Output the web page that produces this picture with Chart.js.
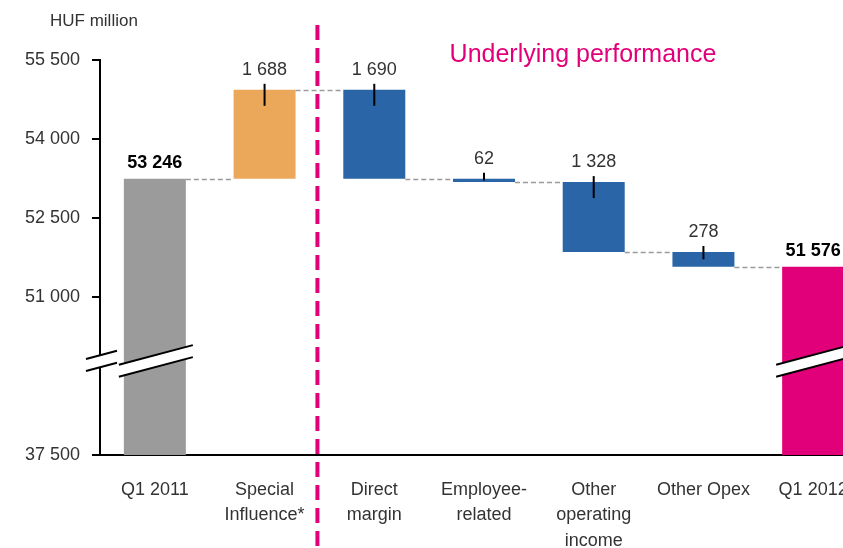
<!DOCTYPE html>
<html>
<head>
<meta charset="utf-8">
<script src="https://cdn.jsdelivr.net/npm/chart.js@4.4.1/dist/chart.umd.min.js"></script>
<style>
  html, body { margin: 0; padding: 0; background: #fff; overflow: hidden; }
  #wrap { width: 843px; height: 548px; overflow: hidden; position: relative; }
</style>
</head>
<body>
<div id="wrap">
  <canvas id="waterfall" width="880" height="560"></canvas>
</div>
<script>
// data
const categories = [
  ["Q1 2011"],
  ["Special", "Influence*"],
  ["Direct", "margin"],
  ["Employee-", "related"],
  ["Other", "operating", "income"],
  ["Other Opex"],
  ["Q1 2012"]
];
const openingValue = 53246;
const closingValue = 51576;
const changeValues = [1688, -1690, -62, -1328, -278];
const yTickValues = [37500, 51000, 52500, 54000, 55500];
const axisBottom = 37500;
const breakValue = 51000;

// broken axis: everything under 51 000 is squeezed into the bottom band
const squeeze = 3000 / (breakValue - axisBottom);
function toAxis(v) {
  return v >= breakValue ? v : breakValue - 3000 + (v - axisBottom) * squeeze;
}
function fromAxis(v) {
  return v >= breakValue ? v : axisBottom + (v - (breakValue - 3000)) / squeeze;
}
function fmt(n) {
  return Math.round(Math.abs(n)).toString().replace(/\B(?=(\d{3})+(?!\d))/g, " ");
}

// build floating bars
const bars = [[toAxis(axisBottom), openingValue]];
const levels = [openingValue];
let running = openingValue;
changeValues.forEach((c) => {
  const next = running + c;
  bars.push([Math.min(running, next), Math.max(running, next)]);
  running = next;
  levels.push(running);
});
bars.push([toAxis(axisBottom), closingValue]);
levels.push(closingValue);

const labels = [fmt(openingValue)].concat(changeValues.map(fmt), [fmt(closingValue)]);
const isTotal = (i) => i === 0 || i === categories.length - 1;

const MAGENTA = "#e2007a";

const overlay = {
  id: "overlay",
  afterDatasetsDraw(chart) {
    const ctx = chart.ctx;
    const meta = chart.getDatasetMeta(0);
    const y = chart.scales.y;
    const x = chart.scales.x;

    // connectors
    ctx.save();
    ctx.strokeStyle = "#9a9a9a";
    ctx.lineWidth = 1.5;
    ctx.setLineDash([5, 3]);
    for (let i = 0; i < meta.data.length - 1; i++) {
      const a = meta.data[i], b = meta.data[i + 1];
      const py = Math.round(y.getPixelForValue(levels[i])) + 0.5;
      ctx.beginPath();
      ctx.moveTo(a.x + a.width / 2, py);
      ctx.lineTo(b.x - b.width / 2, py);
      ctx.stroke();
    }
    ctx.restore();

    // value labels and markers
    meta.data.forEach((el, i) => {
      const top = Math.min(el.y, el.base);
      const h = Math.abs(el.base - el.y);
      ctx.save();
      ctx.textAlign = "center";
      ctx.textBaseline = "alphabetic";
      if (isTotal(i)) {
        ctx.font = "bold 18px 'Liberation Sans', Arial, sans-serif";
        ctx.fillStyle = "#000";
        ctx.fillText(labels[i], el.x, top - 11);
      } else {
        ctx.strokeStyle = "#000";
        ctx.lineWidth = 2;
        ctx.beginPath();
        ctx.moveTo(el.x, top - 6);
        ctx.lineTo(el.x, top + Math.min(16, h / 2));
        ctx.stroke();
        ctx.font = "18px 'Liberation Sans', Arial, sans-serif";
        ctx.fillStyle = "#333";
        ctx.fillText(labels[i], el.x, top - 15);
      }
      ctx.restore();
    });

    // separator between special influence and underlying performance
    const sepX = (x.getPixelForValue(1) + x.getPixelForValue(2)) / 2 - 2;
    ctx.save();
    ctx.strokeStyle = MAGENTA;
    ctx.lineWidth = 4;
    ctx.setLineDash([15, 8]);
    ctx.beginPath();
    ctx.moveTo(sepX, 25);
    ctx.lineTo(sepX, chart.height);
    ctx.stroke();
    ctx.restore();
  },
  afterDraw(chart) {
    const ctx = chart.ctx;
    const meta = chart.getDatasetMeta(0);
    const y = chart.scales.y;
    const area = chart.chartArea;

    // axis break marks (a little below the 51 000 tick)
    const yc = y.getPixelForValue(breakValue - 1100);
    const slope = -0.265;
    const gap = 12;
    const segs = [
      [area.left - 14, area.left + 17],
      [meta.data[0].x - meta.data[0].width / 2 - 5, meta.data[0].x + meta.data[0].width / 2 + 7],
      [meta.data[6].x - meta.data[6].width / 2 - 6, meta.data[6].x + meta.data[6].width / 2 + 6]
    ];
    segs.forEach(([x0, x1]) => {
      const xm = (x0 + x1) / 2;
      const f = (xx, off) => yc + off + slope * (xx - xm);
      ctx.save();
      ctx.fillStyle = "#fff";
      ctx.beginPath();
      ctx.moveTo(x0, f(x0, 0));
      ctx.lineTo(x1, f(x1, 0));
      ctx.lineTo(x1, f(x1, gap));
      ctx.lineTo(x0, f(x0, gap));
      ctx.closePath();
      ctx.fill();
      ctx.strokeStyle = "#000";
      ctx.lineWidth = 2;
      ctx.beginPath();
      ctx.moveTo(x0, f(x0, 0));
      ctx.lineTo(x1, f(x1, 0));
      ctx.moveTo(x0, f(x0, gap));
      ctx.lineTo(x1, f(x1, gap));
      ctx.stroke();
      ctx.restore();
    });

    // texts
    ctx.save();
    ctx.textBaseline = "middle";
    ctx.textAlign = "left";
    ctx.fillStyle = "#333";
    ctx.font = "17px 'Liberation Sans', Arial, sans-serif";
    ctx.fillText("HUF million", 50, 21);
    ctx.textAlign = "center";
    ctx.fillStyle = MAGENTA;
    ctx.font = "25px 'Liberation Sans', Arial, sans-serif";
    ctx.fillText("Underlying performance", 583, 55);
    ctx.restore();
  }
};

Chart.defaults.font.family = "'Liberation Sans', Arial, sans-serif";
Chart.defaults.color = "#333";

new Chart(document.getElementById("waterfall"), {
  type: "bar",
  data: {
    labels: categories,
    datasets: [{
      data: bars,
      backgroundColor: categories.map((c, i) =>
        i === 0 ? "#9b9b9b" : i === 1 ? "#eca85a" : i === categories.length - 1 ? MAGENTA : "#2965a7"),
      borderWidth: 0,
      barPercentage: 0.565,
      categoryPercentage: 1
    }]
  },
  options: {
    responsive: false,
    animation: false,
    layout: { padding: { top: 60, right: 12, left: 0, bottom: 0 } },
    plugins: { legend: { display: false }, tooltip: { enabled: false } },
    scales: {
      x: {
        grid: { display: false, drawTicks: false },
        border: { display: true, color: "#000", width: 2 },
        ticks: { font: { size: 18, lineHeight: 1.42 }, color: "#333", padding: 22, maxRotation: 0, autoSkip: false },
        afterFit: (s) => { s.height = 105; }
      },
      y: {
        min: toAxis(axisBottom),
        max: 55500,
        afterBuildTicks: (s) => { s.ticks = yTickValues.map((v) => ({ value: toAxis(v) })); },
        grid: { drawOnChartArea: false, color: "#000", lineWidth: 2, tickLength: 8 },
        border: { display: true, color: "#000", width: 2 },
        ticks: {
          font: { size: 18 },
          color: "#333",
          padding: 12,
          callback: (v) => fmt(fromAxis(v))
        },
        afterFit: (s) => { s.width = 100; }
      }
    }
  },
  plugins: [overlay]
});
</script>
</body>
</html>
